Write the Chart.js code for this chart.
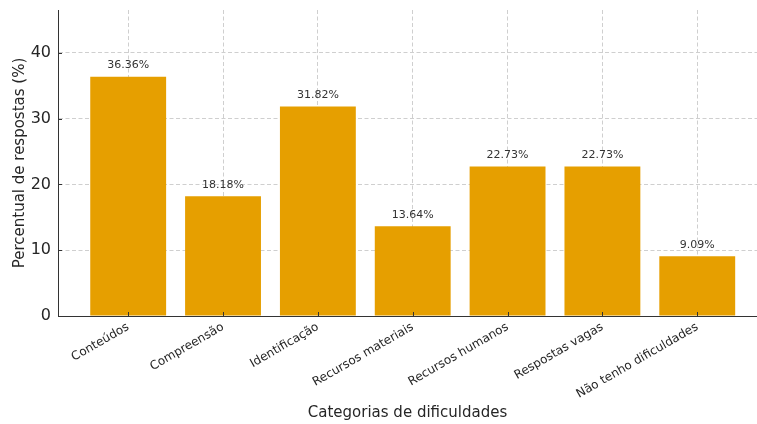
<!DOCTYPE html>
<html>
<head>
<meta charset="utf-8">
<script src="https://cdn.jsdelivr.net/npm/chart.js@4/dist/chart.umd.min.js"></script>
<style>
  html, body { margin: 0; padding: 0; background: #fff; }
  canvas { display: block; }
</style>
</head>
<body>
<canvas id="chart" width="757" height="424"></canvas>
<script>
const categories  = ['Conteúdos', 'Compreensão', 'Identificação', 'Recursos materiais',
                     'Recursos humanos', 'Respostas vagas', 'Não tenho dificuldades'];
const percentages = [36.36, 18.18, 31.82, 13.64, 22.73, 22.73, 9.09];
const yTicks      = [0, 10, 20, 30, 40];

const FONT = "'DejaVu Sans', sans-serif";
const INK  = '#262626';

// percent label above each bar
const valueLabels = {
  id: 'valueLabels',
  afterDatasetsDraw(chart) {
    const ctx = chart.ctx;
    const meta = chart.getDatasetMeta(0);
    ctx.save();
    ctx.font = '11px ' + FONT;
    ctx.fillStyle = '#333';
    ctx.textAlign = 'center';
    ctx.textBaseline = 'bottom';
    meta.data.forEach((bar, i) => {
      ctx.fillText(percentages[i].toFixed(2) + '%', bar.x, bar.y - 6);
    });
    ctx.restore();
  }
};

// matplotlib-style inward tick marks
const innerTicks = {
  id: 'innerTicks',
  afterDraw(chart) {
    const ctx = chart.ctx;
    const { x, y } = chart.scales;
    const area = chart.chartArea;
    ctx.save();
    ctx.strokeStyle = '#333';
    ctx.lineWidth = 1;
    ctx.beginPath();
    x.ticks.forEach(t => {
      const px = Math.round(x.getPixelForValue(t.value)) + 0.5;
      ctx.moveTo(px, area.bottom);
      ctx.lineTo(px, area.bottom - 4);
    });
    y.ticks.forEach(t => {
      const py = Math.round(y.getPixelForValue(t.value)) + 0.5;
      ctx.moveTo(area.left, py);
      ctx.lineTo(area.left + 4, py);
    });
    ctx.stroke();
    ctx.restore();
  }
};

new Chart(document.getElementById('chart').getContext('2d'), {
  type: 'bar',
  data: {
    datasets: [{
      data: percentages.map((v, i) => ({ x: i, y: v })),
      backgroundColor: '#E69F00',
      borderWidth: 0,
      barPercentage: 0.8,
      categoryPercentage: 1.0,
    }]
  },
  options: {
    responsive: false,
    animation: false,
    layout: { padding: { top: 10, right: 0, left: 0, bottom: 0 } },
    plugins: { legend: { display: false }, tooltip: { enabled: false } },
    scales: {
      x: {
        type: 'linear',
        min: -0.74, max: 6.63,
        offset: false,
        z: 1,
        afterBuildTicks: axis => { axis.ticks = categories.map((c, i) => ({ value: i })); },
        afterFit: axis => { axis.height = 108; axis.paddingLeft = 0; axis.paddingRight = 0; },
        ticks: {
          autoSkip: false,
          minRotation: 30, maxRotation: 30,
          padding: 4,
          color: INK,
          font: { family: FONT, size: 12 },
          callback: v => categories[v]
        },
        grid: { color: '#cfcfcf', offset: false, drawTicks: false },
        border: { color: '#333', width: 1, dash: [4, 2.5] },
        title: {
          display: true, text: 'Categorias de dificuldades',
          color: INK, font: { family: FONT, size: 15 },
          padding: { top: 0, bottom: 2 }
        }
      },
      y: {
        min: 0, max: 46.5,
        z: 1,
        afterBuildTicks: axis => { axis.ticks = yTicks.map(v => ({ value: v })); },
        afterFit: axis => { axis.width = 58; axis.paddingTop = 0; axis.paddingBottom = 0; },
        ticks: {
          color: INK,
          padding: 7,
          font: { family: FONT, size: 16 }
        },
        grid: { color: '#cfcfcf', drawTicks: false },
        border: { color: '#333', width: 1, dash: [4, 2.5] },
        title: {
          display: true, text: 'Percentual de respostas (%)',
          color: INK, font: { family: FONT, size: 15 },
          padding: { top: 11, bottom: 0 }
        }
      }
    }
  },
  plugins: [valueLabels, innerTicks]
});
</script>
</body>
</html>
